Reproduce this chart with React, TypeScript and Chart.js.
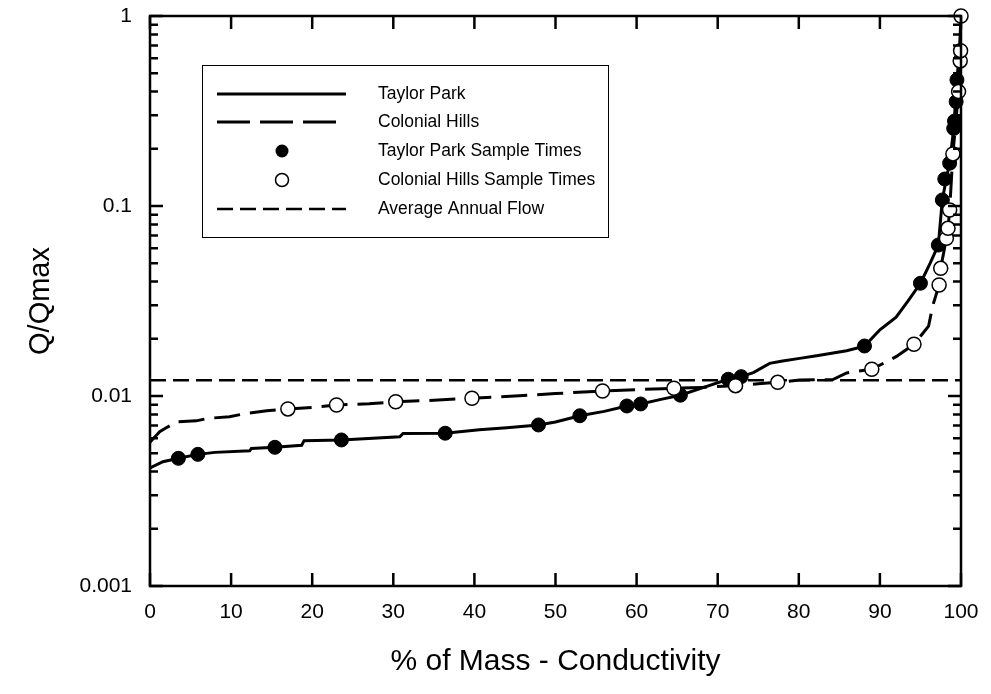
import React, { useEffect, useRef } from "react";
import { Chart, registerables } from "chart.js";

Chart.register(...registerables);

const FONT = "'Liberation Sans', Arial, Helvetica, sans-serif";

// Taylor Park flow-duration curve (% of mass vs Q/Qmax)
const taylorX = [0, 1.6, 3.5, 5.9, 8, 12.3, 12.5, 15.4, 18.7, 19, 23.6, 30.8, 31.2, 36.4, 40.6, 44, 47.9, 50, 53, 56, 58.8, 60.5, 63, 65.4, 68, 71.3, 72.9, 74.4, 76.4, 78, 80.1, 82.2, 85.9, 88.1, 90, 92, 93.5, 95, 96.2, 97.2, 97.7, 98.2, 98.6, 99.1, 99.5, 99.8, 100];
const taylorY = [0.00418, 0.00451, 0.0047, 0.00493, 0.00505, 0.00515, 0.0053, 0.00537, 0.0055, 0.00582, 0.00587, 0.0061, 0.00635, 0.00637, 0.00664, 0.0068, 0.00704, 0.0073, 0.00787, 0.0083, 0.00886, 0.00908, 0.0096, 0.0101, 0.011, 0.01225, 0.01264, 0.01327, 0.01485, 0.0153, 0.01578, 0.0163, 0.0173, 0.0183, 0.0223, 0.026, 0.0318, 0.0392, 0.05, 0.0623, 0.108, 0.14, 0.168, 0.256, 0.461, 0.65, 1.0];

// Colonial Hills flow-duration curve
const colonialX = [0, 0.3, 1.2, 2, 3.3, 5.7, 7.2, 9.8, 11.9, 14.4, 17, 20, 23, 27, 30.3, 35, 39.7, 45, 50, 55.8, 60, 64.6, 68, 72.2, 75, 77.4, 80.1, 84.2, 85.9, 89, 92, 94.2, 96, 96.5, 97.3, 97.5, 98.2, 98.4, 98.6, 99, 99.7, 99.9, 100];
const colonialY = [0.0057, 0.0059, 0.00649, 0.0068, 0.00732, 0.0074, 0.00763, 0.00778, 0.0081, 0.00836, 0.00855, 0.0087, 0.00897, 0.0091, 0.00933, 0.0095, 0.00973, 0.01, 0.0103, 0.01062, 0.0108, 0.01098, 0.0111, 0.01133, 0.0116, 0.0118, 0.01214, 0.0122, 0.01323, 0.01383, 0.0161, 0.0187, 0.0233, 0.0297, 0.0384, 0.047, 0.0676, 0.0763, 0.0953, 0.188, 0.4, 0.58, 1.0];

// Sample times
const taylorSampleX = [3.5, 5.9, 15.4, 23.6, 36.4, 47.9, 53.0, 58.8, 60.5, 65.4, 71.3, 72.9, 88.1, 95.0, 97.2, 97.7, 98.0, 98.6, 99.1, 99.2, 99.4, 99.5];
const taylorSampleY = [0.0047, 0.00493, 0.00537, 0.00587, 0.00637, 0.00704, 0.00787, 0.00886, 0.00908, 0.0101, 0.01225, 0.01264, 0.01833, 0.0392, 0.0623, 0.1076, 0.1387, 0.168, 0.256, 0.28, 0.354, 0.461];
const colonialSampleX = [17.0, 23.0, 30.3, 39.7, 55.8, 64.6, 72.2, 77.4, 89.0, 94.2, 97.3, 97.5, 98.2, 98.4, 98.6, 99.0, 99.7, 99.9, 99.95, 100];
const colonialSampleY = [0.00855, 0.00897, 0.00933, 0.00973, 0.01062, 0.01098, 0.01133, 0.0118, 0.01383, 0.01872, 0.0384, 0.047, 0.0676, 0.0763, 0.0953, 0.188, 0.4, 0.58, 0.657, 1.0];

const averageFlowX = [0, 100];
const averageFlowY = [0.0121, 0.0121];

const xTicks = [0, 10, 20, 30, 40, 50, 60, 70, 80, 90, 100];
const yMajorTicks = [0.001, 0.01, 0.1, 1];

const legendLabels = [
  "Taylor Park",
  "Colonial Hills",
  "Taylor Park Sample Times",
  "Colonial Hills Sample Times",
  "Average Annual Flow",
];

const pts = (xs: number[], ys: number[]) => xs.map((x, i) => ({ x, y: ys[i] }));

const framePlugin = {
  id: "frameTicks",
  afterDraw(chart: any) {
    const { ctx, chartArea } = chart;
    const xs = chart.scales.x;
    const ys = chart.scales.y;
    const { left, right, top, bottom } = chartArea;
    ctx.save();
    ctx.strokeStyle = "#000";
    ctx.lineWidth = 2.5;
    ctx.strokeRect(left, top, right - left, bottom - top);
    ctx.beginPath();
    const major = 13;
    const minor = 8;
    xTicks.forEach((v) => {
      const px = xs.getPixelForValue(v);
      ctx.moveTo(px, bottom);
      ctx.lineTo(px, bottom - major);
      ctx.moveTo(px, top);
      ctx.lineTo(px, top + major);
    });
    for (let e = -3; e <= 0; e++) {
      for (let m = 1; m <= 9; m++) {
        const v = m * Math.pow(10, e);
        if (v > 1.0000001) continue;
        const py = ys.getPixelForValue(v);
        const len = m === 1 ? major : minor;
        ctx.moveTo(left, py);
        ctx.lineTo(left + len, py);
        ctx.moveTo(right, py);
        ctx.lineTo(right - len, py);
      }
    }
    ctx.stroke();
    ctx.restore();
  },
};

const legendPlugin = {
  id: "customLegend",
  afterDraw(chart: any) {
    const { ctx } = chart;
    const bx = 202, by = 65, bw = 406, bh = 172;
    ctx.save();
    ctx.fillStyle = "#fff";
    ctx.fillRect(bx, by, bw, bh);
    ctx.strokeStyle = "#000";
    ctx.lineWidth = 1;
    ctx.strokeRect(bx + 0.5, by + 0.5, bw, bh);
    const rows = [94, 122, 151, 180, 209];
    const x0 = 217, x1 = 346, mx = 282, tx = 378;
    ctx.lineWidth = 3;
    ctx.setLineDash([]);
    ctx.beginPath(); ctx.moveTo(x0, rows[0]); ctx.lineTo(x1, rows[0]); ctx.stroke();
    ctx.setLineDash([33, 10]);
    ctx.beginPath(); ctx.moveTo(x0, rows[1]); ctx.lineTo(x1, rows[1]); ctx.stroke();
    ctx.lineWidth = 2.5;
    ctx.setLineDash([16, 7]);
    ctx.beginPath(); ctx.moveTo(x0, rows[4]); ctx.lineTo(x1, rows[4]); ctx.stroke();
    ctx.setLineDash([]);
    ctx.fillStyle = "#000";
    ctx.beginPath(); ctx.arc(mx, rows[2], 6.5, 0, Math.PI * 2); ctx.fill();
    ctx.fillStyle = "#fff";
    ctx.lineWidth = 1.5;
    ctx.beginPath(); ctx.arc(mx, rows[3], 6.5, 0, Math.PI * 2); ctx.fill(); ctx.stroke();
    ctx.fillStyle = "#000";
    ctx.font = `17.5px ${FONT}`;
    ctx.textBaseline = "middle";
    ctx.textAlign = "left";
    legendLabels.forEach((t, i) => ctx.fillText(t, tx, rows[i]));
    ctx.restore();
  },
};

export default function App() {
  const ref = useRef<HTMLCanvasElement | null>(null);
  useEffect(() => {
    document.body.style.margin = "0";
    const canvas = ref.current!;
    const chart = new Chart(canvas, {
      type: "line",
      data: {
        datasets: [
          {
            label: "Colonial Hills Sample Times",
            data: pts(colonialSampleX, colonialSampleY),
            showLine: false,
            pointRadius: 7,
            pointBackgroundColor: "#fff",
            pointBorderColor: "#000",
            pointBorderWidth: 1.5,
            clip: false,
            order: 0,
          } as any,
          {
            label: "Taylor Park Sample Times",
            data: pts(taylorSampleX, taylorSampleY),
            showLine: false,
            pointRadius: 7,
            pointBackgroundColor: "#000",
            pointBorderColor: "#000",
            pointBorderWidth: 1,
            clip: false,
            order: 1,
          },
          {
            label: "Taylor Park",
            data: pts(taylorX, taylorY),
            borderColor: "#000",
            borderWidth: 3,
            pointRadius: 0,
            tension: 0,
            order: 2,
          },
          {
            label: "Colonial Hills",
            data: pts(colonialX, colonialY),
            borderColor: "#000",
            borderWidth: 3,
            borderDash: [26, 10],
            pointRadius: 0,
            tension: 0,
            order: 3,
          },
          {
            label: "Average Annual Flow",
            data: pts(averageFlowX, averageFlowY),
            borderColor: "#000",
            borderWidth: 2.5,
            borderDash: [16, 7],
            pointRadius: 0,
            order: 4,
          },
        ],
      },
      options: {
        animation: false,
        responsive: false,
        devicePixelRatio: window.devicePixelRatio || 1,
        layout: { padding: { top: 16, right: 30, bottom: 0, left: 0 } },
        plugins: { legend: { display: false }, tooltip: { enabled: false } },
        scales: {
          x: {
            type: "linear",
            min: 0,
            max: 100,
            afterBuildTicks: (s: any) => { s.ticks = xTicks.map((v) => ({ value: v })); },
            afterFit: (s: any) => { s.height = 108; s.paddingLeft = 0; s.paddingRight = 0; },
            grid: { display: false, drawTicks: false },
            border: { display: false },
            ticks: { color: "#000", font: { size: 21, family: FONT }, padding: 14, maxRotation: 0, autoSkip: false },
            title: {
              display: true,
              text: "% of Mass - Conductivity",
              color: "#000",
              font: { size: 30, family: FONT },
              padding: { top: 0, bottom: 14 },
            },
          },
          y: {
            type: "logarithmic",
            min: 0.001,
            max: 1,
            afterBuildTicks: (s: any) => { s.ticks = yMajorTicks.map((v) => ({ value: v })); },
            afterFit: (s: any) => { s.width = 150; s.paddingTop = 0; s.paddingBottom = 0; },
            grid: { display: false, drawTicks: false },
            border: { display: false },
            ticks: {
              color: "#000",
              font: { size: 21, family: FONT },
              padding: 18,
              autoSkip: false,
              callback: (v: any) => String(Number(v)),
            },
            title: {
              display: true,
              text: "Q/Qmax",
              color: "#000",
              font: { size: 29, family: FONT },
              padding: { top: 24, bottom: 0 },
            },
          },
        },
      },
      plugins: [framePlugin, legendPlugin],
    } as any);
    return () => chart.destroy();
  }, []);
  return (
    <div style={{ position: "absolute", left: 0, top: 0, width: 991, height: 694 }}>
      <canvas ref={ref} width={991} height={694} style={{ width: 991, height: 694 }} />
    </div>
  );
}
